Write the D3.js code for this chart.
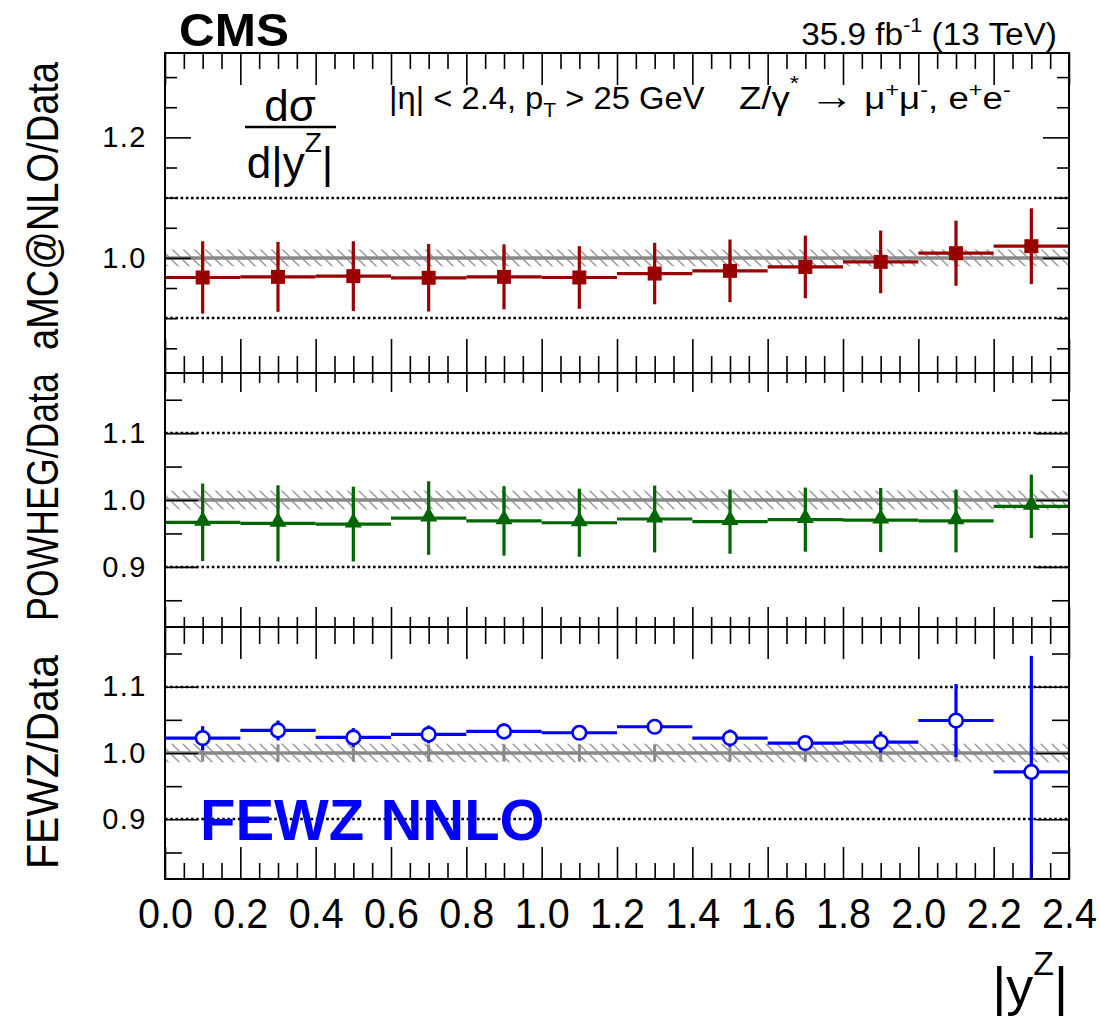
<!DOCTYPE html>
<html><head><meta charset="utf-8">
<script src="https://cdn.jsdelivr.net/npm/d3@7"></script>
<style>body{margin:0;background:#fff;} svg{display:block;}</style>
</head><body>
<svg id="c" width="1100" height="1021"></svg>
<script>
// ---------------- data ----------------
const binEdges = [0.0,0.2,0.4,0.6,0.8,1.0,1.2,1.4,1.6,1.8,2.0,2.2,2.4];
const xTickValues = [0.0,0.2,0.4,0.6,0.8,1.0,1.2,1.4,1.6,1.8,2.0,2.2,2.4];
const xTickLabels = ["0.0","0.2","0.4","0.6","0.8","1.0","1.2","1.4","1.6","1.8","2.0","2.2","2.4"];

const amcRatio = [0.9675,0.9685,0.9697,0.9670,0.9685,0.9675,0.9740,0.9785,0.9850,0.9934,1.0078,1.0194];
const amcErr   = [0.060,0.058,0.058,0.056,0.054,0.052,0.051,0.052,0.052,0.052,0.054,0.063];

const powhegRatio = [0.9666,0.9650,0.9640,0.9730,0.9687,0.9660,0.9716,0.9676,0.9706,0.9700,0.9687,0.9905];
const powhegErr   = [0.058,0.057,0.056,0.055,0.052,0.051,0.050,0.048,0.048,0.048,0.047,0.0475];

const fewzRatio = [1.0225,1.0340,1.0235,1.0280,1.0325,1.0305,1.0396,1.0225,1.0150,1.0165,1.0490,0.9715];
const fewzErr   = [0.018,0.015,0.014,0.0135,0.012,0.008,0.006,0.013,0.008,0.016,0.055,0.175];

const dataErr = [0.013,0.013,0.013,0.013,0.013,0.013,0.013,0.013,0.013,0.013,0.013,0.013];
const bandHalfWidth = 0.014;

const topYMajor = [1.0,1.2];
const topYMinor = [0.85,0.9,0.95,1.05,1.1,1.15,1.25,1.3];
const topYLabels = ["1.0","1.2"];
const lowYMajor = [0.9,1.0,1.1];
const lowYMinor = [0.85,0.95,1.05,1.15];
const lowYLabels = ["0.9","1.0","1.1"];
const gridValues = [0.9,1.1];

// ---------------- layout ----------------
const svg = d3.select('#c');
const X0 = 165, X1 = 1069;
const FONT = "'Liberation Sans', Arial, Helvetica, sans-serif";
const x = d3.scaleLinear().domain([0, 2.4]).range([X0, X1]);
const xMinor = d3.range(0, 49).map(i => i * 0.05).filter(v => Math.abs(v / 0.2 - Math.round(v / 0.2)) > 1e-6);

// squeeze a text element horizontally (in its own frame) to a target width around (ax, ay)
function fitAt(sel, target, ax, ay) {
  const w = sel.node().getBBox().width;
  const s = target / w;
  sel.attr('transform', `translate(${ax},${ay}) scale(${s},1) translate(${-ax},${-ay})`);
}

const panels = [
  {key:'amc', top:53, bottom:373, domain:[0.809,1.34], vals:amcRatio, errs:amcErr, color:'#990000', marker:'square',
   title:'aMC@NLO/Data', titleY:206, titleLen:288, major:topYMajor, minor:topYMinor, labels:topYLabels, majLen:26, minLen:12,
   xTop:[32,16], xBot:[34,17]},
  {key:'pow', top:373, bottom:627, domain:[0.81,1.19], vals:powhegRatio, errs:powhegErr, color:'#006600', marker:'triangle',
   title:'POWHEG/Data', titleY:497, titleLen:248, major:lowYMajor, minor:lowYMinor, labels:lowYLabels, majLen:33, minLen:17,
   xTop:[19,10], xBot:[20,10]},
  {key:'few', top:627, bottom:879, domain:[0.81,1.19], vals:fewzRatio, errs:fewzErr, color:'#0000ff', marker:'circle',
   title:'FEWZ/Data', titleY:762, titleLen:214, major:lowYMajor, minor:lowYMinor, labels:lowYLabels, majLen:33, minLen:17,
   xTop:[32,17], xBot:[32,16]}
];

const defs = svg.append('defs');
const pat = defs.append('pattern').attr('id','hatch').attr('patternUnits','userSpaceOnUse')
  .attr('width',11).attr('height',11);
pat.append('path').attr('d','M0,0 L11,11 M-3,8 L3,14 M8,-3 L14,3')
  .attr('stroke','#999').attr('stroke-width',1.5).attr('fill','none');

panels.forEach(p => {
  const y = d3.scaleLinear().domain(p.domain).range([p.bottom, p.top]);
  defs.append('clipPath').attr('id','clip-'+p.key).append('rect')
    .attr('x',X0).attr('y',p.top).attr('width',X1-X0).attr('height',p.bottom-p.top);
  const g = svg.append('g');
  const inner = g.append('g').attr('clip-path','url(#clip-'+p.key+')');

  // dotted grid lines
  inner.selectAll('line.grid').data(gridValues).join('line')
    .attr('x1',X0).attr('x2',X1).attr('y1',d=>Math.round(y(d))).attr('y2',d=>Math.round(y(d)))
    .attr('stroke','#000').attr('stroke-width',2.6).attr('stroke-dasharray','2.6,2.6');

  // hatched uncertainty band
  inner.append('rect').attr('x',X0).attr('width',X1-X0)
    .attr('y',y(1+bandHalfWidth)).attr('height',y(1-bandHalfWidth)-y(1+bandHalfWidth))
    .attr('fill','url(#hatch)');
  inner.append('line').attr('x1',X0).attr('x2',X1).attr('y1',y(1)).attr('y2',y(1))
    .attr('stroke','#888').attr('stroke-width',3.5);
  // data error ticks (gray)
  inner.selectAll('line.derr').data(dataErr).join('line')
    .attr('x1',(d,i)=>x((binEdges[i]+binEdges[i+1])/2)).attr('x2',(d,i)=>x((binEdges[i]+binEdges[i+1])/2))
    .attr('y1',d=>y(1-d)).attr('y2',d=>y(1+d))
    .attr('stroke','#888').attr('stroke-width',3);

  // series
  const bins = p.vals.map((v,i)=>({v, e:p.errs[i], lo:binEdges[i], hi:binEdges[i+1], c:(binEdges[i]+binEdges[i+1])/2}));
  inner.selectAll('line.h').data(bins).join('line')
    .attr('x1',d=>x(d.lo)).attr('x2',d=>x(d.hi)).attr('y1',d=>y(d.v)).attr('y2',d=>y(d.v))
    .attr('stroke',p.color).attr('stroke-width',3.2);
  inner.selectAll('line.v').data(bins).join('line')
    .attr('x1',d=>x(d.c)).attr('x2',d=>x(d.c)).attr('y1',d=>y(d.v-d.e)).attr('y2',d=>y(d.v+d.e))
    .attr('stroke',p.color).attr('stroke-width',3.2);
  if (p.marker==='square') {
    inner.selectAll('path.m').data(bins).join('path')
      .attr('d', d3.symbol(d3.symbolSquare).size(196)())
      .attr('transform',d=>`translate(${x(d.c)},${y(d.v)})`).attr('fill',p.color);
  } else if (p.marker==='triangle') {
    inner.selectAll('path.m').data(bins).join('path')
      .attr('d', d3.symbol(d3.symbolTriangle).size(125)())
      .attr('transform',d=>`translate(${x(d.c)},${y(d.v)-1.5})`).attr('fill',p.color);
  } else {
    inner.selectAll('circle.m').data(bins).join('circle')
      .attr('cx',d=>x(d.c)).attr('cy',d=>y(d.v)).attr('r',6.8)
      .attr('fill','#fff').attr('stroke',p.color).attr('stroke-width',2.6);
  }

  // axes ticks
  const styleAxis = sel => { sel.select('.domain').remove(); sel.selectAll('line').attr('stroke','#000').attr('stroke-width',1.6); };
  const yl = g.append('g').attr('transform',`translate(${X0},0)`)
    .call(d3.axisLeft(y).tickValues(p.major).tickSizeInner(-p.majLen).tickSizeOuter(0).tickPadding(18)
      .tickFormat((d,i)=>p.labels[i]))
    .call(styleAxis);
  yl.selectAll('text').attr('font-family',FONT).attr('font-size',29).attr('fill','#000').attr('letter-spacing',1.5);
  g.append('g').attr('transform',`translate(${X0},0)`)
    .call(d3.axisLeft(y).tickValues(p.minor).tickSizeInner(-p.minLen).tickSizeOuter(0).tickFormat(''))
    .call(styleAxis);
  g.append('g').attr('transform',`translate(${X1},0)`)
    .call(d3.axisRight(y).tickValues(p.major).tickSizeInner(-p.majLen).tickSizeOuter(0).tickFormat(''))
    .call(styleAxis);
  g.append('g').attr('transform',`translate(${X1},0)`)
    .call(d3.axisRight(y).tickValues(p.minor).tickSizeInner(-p.minLen).tickSizeOuter(0).tickFormat(''))
    .call(styleAxis);
  g.append('g').attr('transform',`translate(0,${p.top})`)
    .call(d3.axisTop(x).tickValues(xTickValues).tickSizeInner(-p.xTop[0]).tickSizeOuter(0).tickFormat(''))
    .call(styleAxis);
  g.append('g').attr('transform',`translate(0,${p.top})`)
    .call(d3.axisTop(x).tickValues(xMinor).tickSizeInner(-p.xTop[1]).tickSizeOuter(0).tickFormat(''))
    .call(styleAxis);
  const bot = g.append('g').attr('transform',`translate(0,${p.bottom})`)
    .call(d3.axisBottom(x).tickValues(xTickValues).tickSizeInner(-p.xBot[0]).tickSizeOuter(0).tickPadding(18)
      .tickFormat((d,i)=> p.key==='few' ? xTickLabels[i] : ''))
    .call(styleAxis);
  bot.selectAll('text').attr('font-family',FONT).attr('font-size',43).attr('fill','#000')
    .each(function(){ const t=d3.select(this); const w=this.getBBox().width; if(w>0) t.attr('transform',`scale(${55/w},1)`); });

  g.append('g').attr('transform',`translate(0,${p.bottom})`)
    .call(d3.axisBottom(x).tickValues(xMinor).tickSizeInner(-p.xBot[1]).tickSizeOuter(0).tickFormat(''))
    .call(styleAxis);

  // y title (condensed, rotated)
  const tt = svg.append('text').attr('x',0).attr('y',0)
    .attr('text-anchor','middle').attr('font-family',FONT).attr('font-size',45).text(p.title);
  const tw = tt.node().getComputedTextLength();
  tt.attr('transform',`translate(58,${p.titleY}) rotate(-90) scale(${p.titleLen/tw},1)`);
});

// frame
svg.append('rect').attr('x',X0).attr('y',53).attr('width',X1-X0).attr('height',879-53)
  .attr('fill','none').attr('stroke','#000').attr('stroke-width',2);
[373,627].forEach(yy => svg.append('line').attr('x1',X0).attr('x2',X1).attr('y1',yy).attr('y2',yy)
  .attr('stroke','#000').attr('stroke-width',2));

// header texts
const cms = svg.append('text').attr('x',179).attr('y',46).attr('font-family',FONT).attr('font-weight','bold')
  .attr('font-size',47).text('CMS');
fitAt(cms, 110, 179, 46);
const lumi = svg.append('text').attr('x',1057).attr('y',45).attr('text-anchor','end')
  .attr('font-family',FONT).attr('font-size',31);
lumi.append('tspan').text('35.9 fb');
lumi.append('tspan').attr('dy',-13).attr('font-size',20).text('-1');
lumi.append('tspan').attr('dy',13).text('  (13 TeV)');
fitAt(lumi, 256, 1057, 45);

// fraction
svg.append('text').attr('x',290).attr('y',121).attr('text-anchor','middle').attr('font-family',FONT)
  .attr('font-size',44).text('dσ');
svg.append('line').attr('x1',245).attr('x2',336).attr('y1',127).attr('y2',127).attr('stroke','#000').attr('stroke-width',2.5);
const den = svg.append('text').attr('x',290).attr('y',178).attr('text-anchor','middle').attr('font-family',FONT).attr('font-size',44);
den.append('tspan').text('d|y');
den.append('tspan').attr('dy',-26).attr('font-size',28).text('Z');
den.append('tspan').attr('dy',26).text('|');

const cut = svg.append('text').attr('x',389).attr('y',109).attr('font-family',FONT).attr('font-size',31);
cut.append('tspan').text('|η| < 2.4, p');
cut.append('tspan').attr('dy',8).attr('font-size',20).text('T');
cut.append('tspan').attr('dy',-8).text(' > 25 GeV');
fitAt(cut, 316, 389, 109);

const proc = svg.append('text').attr('x',739).attr('y',109).attr('font-family',FONT).attr('font-size',31);
proc.append('tspan').text('Z/γ');
proc.append('tspan').attr('dy',-19).attr('font-size',20).text('*');
proc.append('tspan').attr('dy',19).text(' ');
proc.append('tspan').attr('font-size',38).text('→');
proc.append('tspan').text(' μ');
proc.append('tspan').attr('dy',-12).attr('font-size',20).text('+');
proc.append('tspan').attr('dy',12).text('μ');
proc.append('tspan').attr('dy',-12).attr('font-size',20).text('-');
proc.append('tspan').attr('dy',12).text(', e');
proc.append('tspan').attr('dy',-12).attr('font-size',20).text('+');
proc.append('tspan').attr('dy',12).text('e');
proc.append('tspan').attr('dy',-12).attr('font-size',20).text('-');
fitAt(proc, 272, 739, 109);

// FEWZ NNLO label
svg.append('text').attr('x',200).attr('y',840).attr('font-family',FONT).attr('font-weight','bold')
  .attr('font-size',58).attr('fill','#0000ff').text('FEWZ NNLO');

// x title
const xt = svg.append('text').attr('x',1068).attr('y',1005).attr('text-anchor','end').attr('font-family',FONT).attr('font-size',54);
xt.append('tspan').text('|y');
xt.append('tspan').attr('dy',-30).attr('font-size',34).text('Z');
xt.append('tspan').attr('dy',30).text('|');
</script>
</body></html>
